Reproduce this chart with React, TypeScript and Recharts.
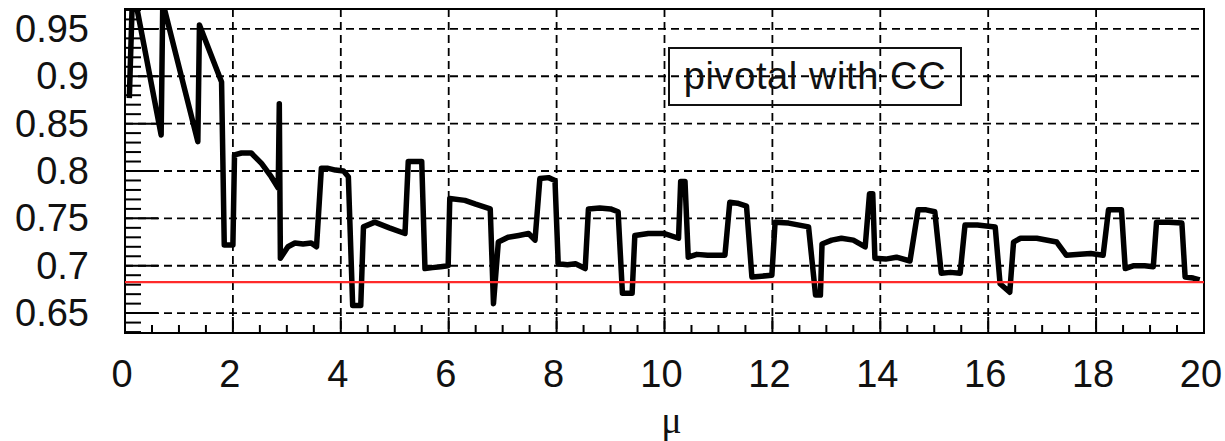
import { LineChart, Line, XAxis, YAxis, CartesianGrid, ReferenceLine, ReferenceArea } from 'recharts';

// coverage vs mu (corner points of the curve)
const mu = [
  0.08, 0.13, 0.21, 0.67, 0.70, 1.35, 1.38, 1.79, 1.84, 2.00,
  2.03, 2.16, 2.34, 2.53, 2.71, 2.84, 2.86, 2.88, 3.02, 3.15, 3.30, 3.45, 3.55,
  3.64, 3.75, 3.90, 4.05, 4.14, 4.22, 4.37, 4.42, 4.63, 4.90, 5.19, 5.25, 5.50,
  5.56, 5.70, 5.85, 5.99, 6.02, 6.30, 6.50, 6.77, 6.83, 6.92, 7.10, 7.30, 7.48,
  7.60, 7.69, 7.85, 7.97, 8.03, 8.20, 8.35, 8.53, 8.59, 8.80, 9.00, 9.14, 9.22,
  9.40, 9.45, 9.70, 10.00, 10.26, 10.30, 10.38, 10.44, 10.60, 10.80, 11.12,
  11.21, 11.35, 11.52, 11.62, 11.80, 11.99, 12.05, 12.30, 12.67, 12.80, 12.89,
  12.92, 13.10, 13.28, 13.50, 13.72, 13.80, 13.86, 13.90, 14.10, 14.30, 14.55,
  14.70, 14.85, 15.01, 15.13, 15.30, 15.48, 15.57, 15.80, 16.13, 16.22, 16.40,
  16.47, 16.60, 16.90, 17.27, 17.45, 17.70, 17.90, 18.13, 18.23, 18.47, 18.54,
  18.70, 18.90, 19.06, 19.12, 19.35, 19.59, 19.65, 19.80, 19.92,
];
const coverage = [
  0.877, 0.970, 0.975, 0.838, 0.978, 0.831, 0.954, 0.894, 0.722, 0.722,
  0.817, 0.819, 0.819, 0.808, 0.794, 0.782, 0.871, 0.708, 0.720, 0.724, 0.723, 0.724, 0.720,
  0.803, 0.803, 0.801, 0.800, 0.794, 0.658, 0.658, 0.741, 0.746, 0.740, 0.734, 0.810, 0.810,
  0.697, 0.698, 0.699, 0.700, 0.771, 0.769, 0.765, 0.760, 0.660, 0.725, 0.730, 0.732, 0.734,
  0.727, 0.792, 0.793, 0.790, 0.702, 0.701, 0.702, 0.697, 0.760, 0.761, 0.760, 0.757, 0.671,
  0.671, 0.732, 0.734, 0.734, 0.729, 0.789, 0.789, 0.709, 0.712, 0.711, 0.711,
  0.767, 0.766, 0.763, 0.688, 0.689, 0.690, 0.746, 0.745, 0.741, 0.669, 0.669,
  0.723, 0.727, 0.729, 0.727, 0.720, 0.776, 0.776, 0.708, 0.707, 0.709, 0.705,
  0.759, 0.759, 0.757, 0.692, 0.693, 0.692, 0.743, 0.743, 0.741, 0.681, 0.672,
  0.725, 0.729, 0.729, 0.725, 0.711, 0.712, 0.713, 0.711, 0.759, 0.759, 0.697,
  0.700, 0.700, 0.699, 0.746, 0.746, 0.745, 0.688, 0.687, 0.685,
];

const nominal = 0.6827;

const xMajor = [0, 2, 4, 6, 8, 10, 12, 14, 16, 18, 20];
const xMinor = [0.5, 1, 1.5, 2.5, 3, 3.5, 4.5, 5, 5.5, 6.5, 7, 7.5, 8.5, 9, 9.5, 10.5, 11, 11.5,
  12.5, 13, 13.5, 14.5, 15, 15.5, 16.5, 17, 17.5, 18.5, 19, 19.5];
const yMajor = [0.65, 0.7, 0.75, 0.8, 0.85, 0.9, 0.95];
const yLabels = ['0.65', '0.7', '0.75', '0.8', '0.85', '0.9', '0.95'];
const yMinor = [0.63, 0.64, 0.66, 0.67, 0.68, 0.69, 0.71, 0.72, 0.73, 0.74, 0.76, 0.77, 0.78,
  0.79, 0.81, 0.82, 0.83, 0.84, 0.86, 0.87, 0.88, 0.89, 0.91, 0.92, 0.93, 0.94, 0.96, 0.97];

const data = mu.map((m, i) => ({ mu: m, cov: coverage[i] }));
const font = '"Liberation Sans", Arial, sans-serif';

function XTick({ x, y, payload }: any) {
  const major = xMajor.includes(payload.value);
  return (
    <g>
      <line x1={x} x2={x} y1={y} y2={y - (major ? 16 : 8)} stroke="#000" strokeWidth={2} />
      {major && (
        <text x={x - 3} y={y + 54} textAnchor="middle" fontFamily={font} fontSize={38} fill="#111">
          {payload.value}
        </text>
      )}
    </g>
  );
}

function YTick({ x, y, payload }: any) {
  const idx = yMajor.findIndex((v) => Math.abs(v - payload.value) < 1e-6);
  const major = idx >= 0;
  return (
    <g>
      <line x1={x} x2={x + (major ? 33 : 16)} y1={y} y2={y} stroke="#000" strokeWidth={2} />
      {major && (
        <text x={x - 36} y={y + 13} textAnchor="end" fontFamily={font} fontSize={38} fill="#111">
          {yLabels[idx]}
        </text>
      )}
    </g>
  );
}

export default function App() {
  return (
    <div style={{ position: 'absolute', left: 0, top: 0, width: 1225, height: 441, background: '#fff' }}>
      <LineChart width={1225} height={441} data={data} margin={{ top: 9, right: 21, bottom: 0, left: 0 }}>
        <CartesianGrid
          stroke="#000"
          strokeWidth={1.8}
          strokeDasharray="8 5"
          verticalValues={[2, 4, 6, 8, 10, 12, 14, 16, 18]}
          horizontalValues={yMajor}
        />
        <XAxis
          dataKey="mu"
          type="number"
          domain={[0, 20]}
          allowDataOverflow
          ticks={[...xMajor, ...xMinor].sort((a, b) => a - b)}
          interval={0}
          tick={<XTick />}
          tickLine={false}
          axisLine={false}
          tickSize={0}
          tickMargin={0}
          height={108}
          label={{
            content: ({ viewBox }: any) => (
              <text
                x={viewBox.x + viewBox.width / 2 + 7}
                y={viewBox.y + 100}
                textAnchor="middle"
                fontFamily='"Liberation Serif", serif'
                fontSize={38}
                fill="#111"
              >
                μ
              </text>
            ),
          }}
        />
        <YAxis
          type="number"
          domain={[0.629, 0.971]}
          allowDataOverflow
          ticks={[...yMajor, ...yMinor].sort((a, b) => a - b)}
          interval={0}
          tick={<YTick />}
          tickLine={false}
          axisLine={false}
          tickSize={0}
          tickMargin={0}
          width={125}
        />
        <ReferenceArea x1={0} x2={20} y1={0.629} y2={0.971} fill="none" stroke="#000" strokeWidth={2} />
        <Line
          dataKey="cov"
          type="linear"
          stroke="#000"
          strokeWidth={5.5}
          strokeLinejoin="round"
          dot={false}
          isAnimationActive={false}
        />
        <ReferenceLine y={nominal} stroke="#ff2a2a" strokeWidth={2.2} />
      </LineChart>
      <div
        style={{
          position: 'absolute',
          left: 668,
          top: 47,
          width: 294,
          height: 59,
          boxSizing: 'border-box',
          border: '2px solid #111',
          display: 'flex',
          alignItems: 'center',
          justifyContent: 'center',
          fontFamily: font,
          fontSize: 38,
          letterSpacing: 0.6,
          color: '#111',
        }}
      >
        pivotal with CC
      </div>
    </div>
  );
}
